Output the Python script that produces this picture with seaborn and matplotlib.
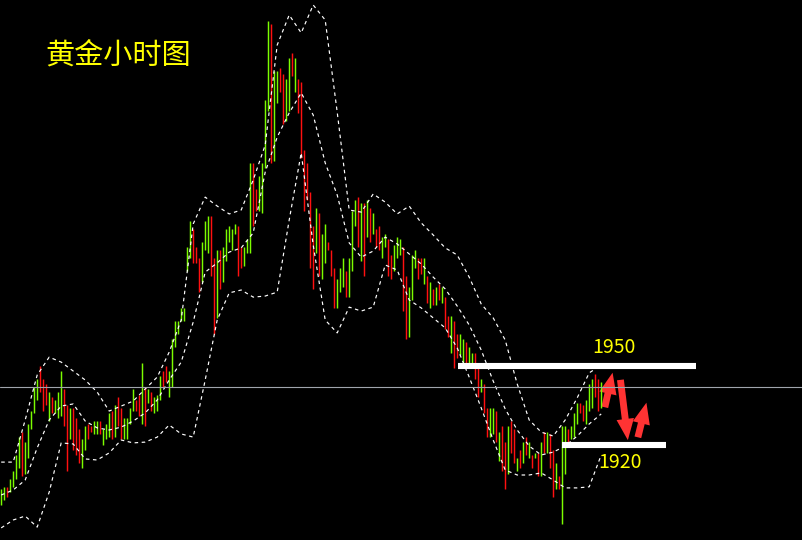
import numpy as np
import pandas as pd
import seaborn as sns
import matplotlib.pyplot as plt
from matplotlib.patches import FancyArrowPatch

# hourly bars (one bar per hour)
highs = [1903, 1904, 1904, 1907, 1910, 1916, 1923, 1925, 1921, 1928,
         1933, 1942, 1945, 1950, 1945, 1943, 1940, 1938, 1937, 1940,
         1948, 1941, 1935, 1934, 1934, 1930, 1926, 1922, 1927, 1928,
         1927, 1929, 1929, 1929, 1926, 1928, 1932, 1933, 1935, 1938,
         1934, 1930, 1930, 1934, 1941, 1937, 1939, 1951, 1942, 1941,
         1940, 1938, 1939, 1946, 1948, 1950, 1948, 1960, 1967, 1967,
         1972, 1972, 1995, 2005, 2002, 1995, 1991, 1997, 2005, 2007,
         2007, 1991, 1994, 1994, 1995, 2002, 2003, 2002, 2004, 2003,
         1995, 1995, 1998, 2027, 2027, 2017, 2022, 2027, 2051, 2081,
         2080, 2062, 2062, 2063, 2061, 2059, 2067, 2069, 2067, 2059,
         2058, 2032, 2027, 2016, 2003, 2010, 2008, 2000, 2004, 1997,
         1994, 1987, 1983, 1987, 1991, 1986, 1991, 2009, 2013, 2014,
         2012, 2012, 2013, 2010, 2008, 2002, 2003, 1999, 2000, 1998,
         1992, 1996, 1999, 1998, 1995, 1984, 1980, 1992, 1994, 1991,
         1991, 1991, 1984, 1982, 1979, 1980, 1981, 1980, 1976, 1969,
         1969, 1967, 1962, 1962, 1960, 1959, 1957, 1955, 1955, 1949,
         1945, 1943, 1934, 1934, 1934, 1933, 1925, 1927, 1921, 1927,
         1929, 1926, 1915, 1918, 1921, 1923, 1921, 1916, 1917, 1917,
         1921, 1925, 1925, 1924, 1918, 1913, 1908, 1927, 1927, 1926,
         1927, 1932, 1936, 1936, 1935, 1937, 1943, 1945, 1947, 1945,
         1944]
lows = [1897, 1899, 1900, 1902, 1904, 1907, 1911, 1908, 1909, 1915,
        1926, 1932, 1937, 1940, 1933, 1935, 1929, 1932, 1932, 1930,
        1931, 1927, 1910, 1922, 1918, 1916, 1913, 1911, 1918, 1922,
        1925, 1924, 1924, 1924, 1920, 1922, 1923, 1922, 1923, 1927,
        1922, 1922, 1922, 1928, 1933, 1933, 1931, 1928, 1927, 1936,
        1933, 1932, 1933, 1937, 1942, 1944, 1938, 1942, 1957, 1962,
        1967, 1967, 1986, 1991, 1989, 1989, 1978, 1982, 1994, 1993,
        1984, 1962, 1968, 1979, 1982, 1990, 1997, 1994, 2000, 1984,
        1987, 1988, 1993, 1993, 2003, 2009, 2009, 2008, 2025, 2047,
        2027, 2028, 2050, 2054, 2042, 2043, 2047, 2060, 2054, 2046,
        2029, 2009, 2013, 1987, 1979, 1993, 1984, 1983, 1989, 1994,
        1984, 1972, 1972, 1978, 1980, 1976, 1976, 1986, 2003, 1995,
        1990, 1984, 1999, 1997, 2000, 1995, 1994, 1991, 1995, 1984,
        1983, 1986, 1991, 1992, 1971, 1960, 1961, 1975, 1987, 1983,
        1985, 1981, 1974, 1972, 1973, 1973, 1975, 1974, 1964, 1961,
        1955, 1949, 1953, 1954, 1951, 1951, 1951, 1951, 1945, 1938,
        1940, 1932, 1923, 1923, 1924, 1921, 1914, 1910, 1903, 1909,
        1917, 1913, 1910, 1911, 1913, 1916, 1915, 1911, 1915, 1908,
        1908, 1917, 1917, 1911, 1900, 1903, 1903, 1890, 1909, 1921,
        1922, 1923, 1928, 1932, 1929, 1928, 1933, 1934, 1938, 1933,
        1934]
# 1 = up bar (green), 0 = down bar (red)
up = [1, 1, 0, 1, 1, 1, 1, 0, 1, 1,
      1, 1, 1, 0, 0, 0, 1, 0, 1, 1,
      1, 0, 0, 1, 0, 0, 0, 1, 1, 0,
      0, 1, 1, 0, 1, 1, 1, 0, 1, 0,
      0, 1, 1, 1, 1, 0, 0, 1, 0, 1,
      0, 1, 1, 1, 0, 0, 1, 1, 1, 1,
      1, 1, 1, 1, 0, 0, 0, 1, 1, 1,
      0, 0, 1, 0, 1, 1, 1, 1, 1, 0,
      0, 1, 1, 1, 0, 0, 1, 1, 1, 1,
      0, 1, 1, 0, 0, 1, 1, 0, 1, 0,
      0, 0, 0, 0, 0, 1, 0, 1, 1, 0,
      0, 0, 1, 1, 1, 0, 1, 1, 1, 0,
      1, 0, 1, 0, 1, 0, 0, 1, 1, 0,
      0, 1, 1, 1, 0, 0, 1, 1, 1, 0,
      0, 1, 0, 1, 0, 1, 0, 1, 0, 0,
      1, 0, 0, 1, 1, 0, 1, 1, 0, 0,
      1, 0, 0, 1, 1, 0, 1, 0, 0, 1,
      0, 0, 1, 0, 1, 0, 1, 0, 1, 0,
      1, 0, 1, 0, 0, 1, 0, 1, 1, 0,
      1, 1, 1, 0, 0, 1, 1, 1, 0, 0,
      1]

# bollinger bands, read every 4th bar
band_upper = [1913.4, 1913.4, 1929.4, 1946.5, 1953.3, 1951.4, 1948.0, 1944.6, 1940.0, 1932.8,
              1934.7, 1936.6, 1941.2, 1945.7, 1955.2, 1967.4, 2003.9, 2014.1, 2010.7, 2007.7,
              2009.2, 2020.6, 2033.9, 2071.9, 2083.3, 2076.5, 2087.1, 2081.4, 2046.4, 2009.2,
              2008.4, 2015.3, 2012.2, 2007.7, 2010.7, 2004.3, 1999.7, 1994.8, 1992.1, 1983.7,
              1973.5, 1968.2, 1959.8, 1943.1, 1929.4, 1924.8, 1923.3, 1929.4, 1937.8, 1947.3,
              1950.3]
band_middle = [1900.9, 1902.8, 1906.6, 1918.8, 1929.4, 1934.7, 1935.5, 1929.0, 1926.4, 1925.6,
               1926.7, 1929.0, 1932.1, 1937.0, 1944.6, 1951.4, 1966.6, 1985.6, 1989.1, 1993.2,
               1994.8, 2000.5, 2023.6, 2036.9, 2046.1, 2053.7, 2045.3, 2027.1, 2014.9, 1996.7,
               1991.3, 1993.6, 1998.9, 1996.3, 1992.5, 1988.7, 1983.7, 1979.2, 1972.7, 1965.5,
               1956.0, 1944.2, 1933.6, 1925.6, 1919.5, 1916.1, 1917.2, 1919.5, 1923.3, 1927.9,
               1931.7]
band_lower = [1888.4, 1891.4, 1892.9, 1888.7, 1902.0, 1920.7, 1920.3, 1914.6, 1914.2, 1916.9,
              1921.8, 1920.7, 1921.0, 1922.9, 1927.5, 1924.1, 1922.9, 1944.6, 1967.4, 1977.7,
              1978.8, 1976.1, 1976.5, 1978.0, 2005.4, 2030.9, 1995.9, 1967.4, 1962.5, 1972.3,
              1970.8, 1972.3, 1988.3, 1986.4, 1975.0, 1972.0, 1968.2, 1964.4, 1956.8, 1945.7,
              1934.0, 1921.8, 1910.4, 1908.5, 1908.5, 1909.3, 1906.6, 1903.6, 1903.6, 1904.0,
              1916.1]

current_price = 1942
resistance = 1950
support = 1920
title = "黄金小时图"

sns.set_style("dark", rc={"axes.facecolor": "black", "figure.facecolor": "black"})
plt.rcParams["font.family"] = ["Noto Sans CJK SC", "DejaVu Sans"]

fig = plt.figure(figsize=(8.02, 5.40), dpi=100)
ax = fig.add_axes([0, 0, 1, 1])
ax.set_facecolor("black")

bars = np.arange(len(highs))
colors = ["#7cfc00" if u else "#ff1010" for u in up]
ax.vlines(bars, lows, highs, colors=colors, linewidth=1.05)

band_bars = np.arange(0, len(highs), 4)
for vals in (band_upper, band_middle, band_lower):
    sns.lineplot(x=band_bars, y=vals, ax=ax, color="white", linewidth=0.85,
                 linestyle=(0, (3, 3)), legend=False)

ax.axhline(current_price, color="#a0a4ac", linewidth=0.8)

# key levels
ax.hlines(resistance, 152.3, 231.7, color="white", linewidth=4.4)
ax.hlines(support, 187.0, 221.7, color="white", linewidth=4.4)
ax.text(204.3, 1957.1, "1950", color="#ffff00", fontsize=14, ha="center", va="center")
ax.text(206.3, 1913.4, "1920", color="#ffff00", fontsize=14, ha="center", va="center")

for (x0, y0), (x1, y1) in [((201.0, 1933.2), (204.0, 1948.4)),
                           ((206.3, 1945.7), (209.0, 1920.7)),
                           ((212.0, 1921.8), (215.3, 1937.0))]:
    ax.add_patch(FancyArrowPatch((x0, y0), (x1, y1),
                                 arrowstyle="simple,head_length=1.7,head_width=1.4,tail_width=0.55",
                                 mutation_scale=9, color="#ff3333", linewidth=0))

fig.text(118 / 802, 1 - 56 / 540, title, color="#ffff00", fontsize=21,
         ha="center", va="center")

ax.set_xlim(-0.4, -0.4 + 802 / 3)
ax.set_ylim(1883.8, 2089)
ax.set_axis_off()

fig.savefig("out.png", dpi=100, facecolor="black")
